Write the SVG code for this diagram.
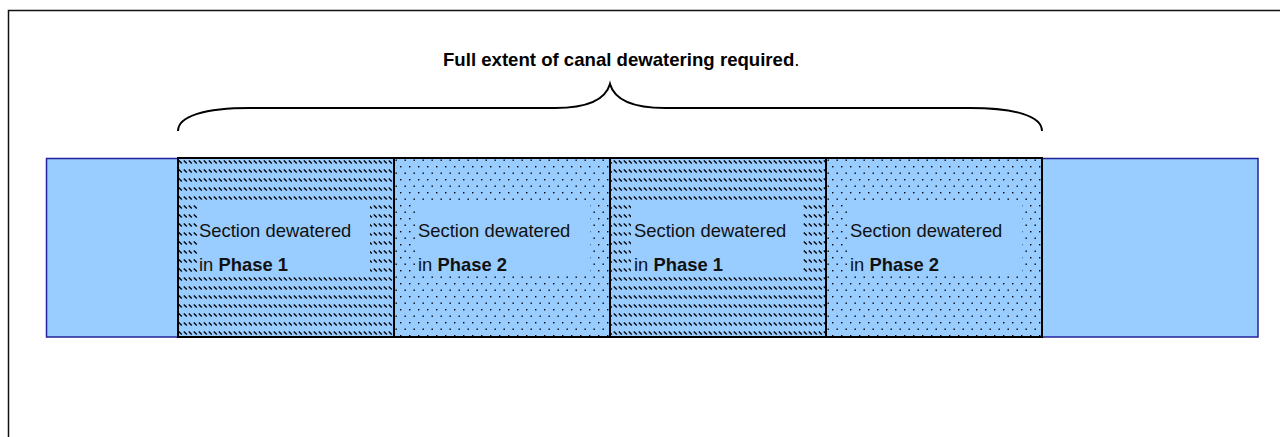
<svg xmlns="http://www.w3.org/2000/svg" width="1280" height="437" viewBox="0 0 1280 437">
<style>
.sec{stroke:#000;stroke-width:2}
.inner{fill:#99CCFF;stroke:none}
.t{font-family:"Liberation Sans",Arial,sans-serif;font-size:18.4px;fill:#111}
.b{font-weight:bold}
.title{font-family:"Liberation Sans",Arial,sans-serif;font-size:18.6px;fill:#000}
</style>
<defs>
<pattern id="hatch" patternUnits="userSpaceOnUse" x="178" y="158" width="5" height="9">
<rect width="5" height="9" fill="#99CCFF"/>
<path d="M0.8,2.5 L3.8,5.5" stroke="#000" stroke-width="1.3"/>
</pattern>
<pattern id="dots" patternUnits="userSpaceOnUse" x="394" y="158" width="9" height="13">
<rect width="9" height="13" fill="#99CCFF"/>
<rect x="1.5" y="1.5" width="1.4" height="1.4" fill="#000"/>
<rect x="6" y="8" width="1.4" height="1.4" fill="#000"/>
</pattern>
</defs>
<rect x="8.5" y="10.5" width="1400" height="600" fill="#fff" stroke="#111" stroke-width="1.5"/>
<g id="canal">
<rect x="46.5" y="158.5" width="1211.5" height="178.5" fill="#99CCFF" stroke="#22229a" stroke-width="1.5"/>
</g>
<g id="section1">
<rect class="sec" x="178" y="158" width="216" height="179" fill="url(#hatch)"/>
<rect class="inner" x="198" y="205" width="172" height="72"/>
<text class="t" x="199" y="237">Section dewatered</text>
<text class="t" x="199" y="271">in <tspan class="b">Phase 1</tspan></text>
</g>
<g id="section2">
<rect class="sec" x="394" y="158" width="216" height="179" fill="url(#dots)"/>
<rect class="inner" x="415" y="204" width="175" height="71"/>
<text class="t" x="418" y="237">Section dewatered</text>
<text class="t" x="418" y="271">in <tspan class="b">Phase 2</tspan></text>
</g>
<g id="section3">
<rect class="sec" x="610" y="158" width="216" height="179" fill="url(#hatch)"/>
<rect class="inner" x="631" y="205" width="172" height="72"/>
<text class="t" x="634" y="237">Section dewatered</text>
<text class="t" x="634" y="271">in <tspan class="b">Phase 1</tspan></text>
</g>
<g id="section4">
<rect class="sec" x="826" y="158" width="216" height="179" fill="url(#dots)"/>
<rect class="inner" x="847" y="204" width="175" height="71"/>
<text class="t" x="850" y="237">Section dewatered</text>
<text class="t" x="850" y="271">in <tspan class="b">Phase 2</tspan></text>
</g>
<g id="connectors">
<path d="M178,131 C178,116 205,108 250,108 L555,108 C592,108 606,98 610,84 C614,98 628,108 665,108 L970,108 C1015,108 1042,116 1042,131" fill="none" stroke="#000" stroke-width="2"/>
</g>
<g id="label">
<text class="title" x="443" y="66"><tspan class="b">Full extent of canal dewatering required</tspan>.</text>
</g>
</svg>
